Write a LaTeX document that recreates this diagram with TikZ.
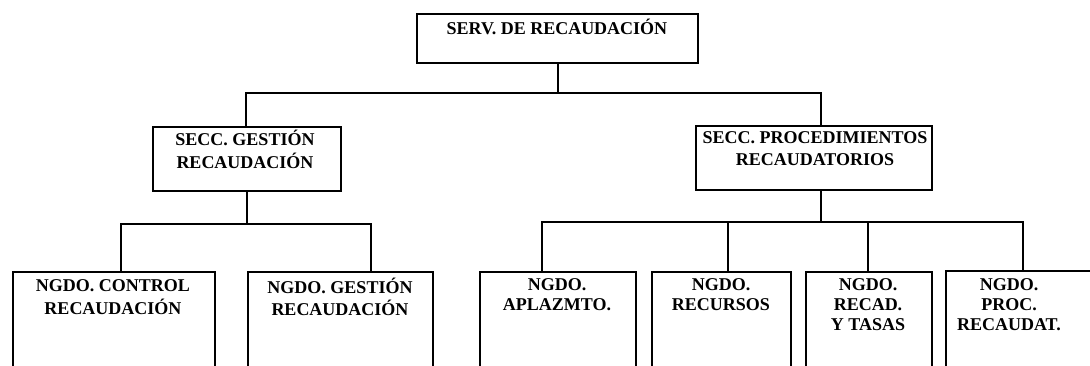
\documentclass[tikz,border=0pt]{standalone}
\usepackage{fontspec}
\setmainfont{Liberation Serif}
\begin{document}
\begin{tikzpicture}[x=1pt,y=-1pt,
  line width=1.5pt,
  box/.style={draw=black, line width=1.6pt, rectangle, inner sep=0pt, anchor=north west},
  lbl/.style={anchor=north, inner sep=0pt, align=center, font=\bfseries\fontsize{18}{20}\selectfont},
  lblb/.style={lbl, font=\bfseries\fontsize{18}{21.5}\selectfont},
  link/.style={draw=black, line width=1.6pt}]
\useasboundingbox (0,0) rectangle (1090,366);
\clip (0,0) rectangle (1090,366);
\fill[white] (0,0) rectangle (1090,366);
% boxes
\node[box, minimum width=281pt, minimum height=49pt] (top) at (416,13) {};
\node[box, minimum width=188pt, minimum height=64pt] (secL) at (152,126) {};
\node[box, minimum width=236pt, minimum height=64pt] (secR) at (695,125) {};
\node[box, minimum width=202pt, minimum height=120pt] (n1) at (12,271) {};
\node[box, minimum width=185pt, minimum height=120pt] (n2) at (247,271) {};
\node[box, minimum width=156pt, minimum height=120pt] (n3) at (479,271) {};
\node[box, minimum width=139pt, minimum height=120pt] (n4) at (651,271) {};
\node[box, minimum width=126pt, minimum height=120pt] (n5) at (805,271) {};
\node[box, minimum width=160pt, minimum height=120pt] (n6) at (945,270) {};
% labels
\node[lbl] (tTop) at (557,18) {\strut SERV. DE RECAUDACIÓN};
\node[lblb] (tSecL) at (245,129) {\strut SECC. GESTIÓN\\RECAUDACIÓN};
\node[lblb] (tSecR) at (815,128) {\strut SECC. PROCEDIMIENTOS\\RECAUDATORIOS};
\node[lbl] (t1) at (113,277) {\strut NGDO. CONTROL\\RECAUDACIÓN};
\node[lbl] (t2) at (340,277) {\strut NGDO. GESTIÓN\\RECAUDACIÓN};
\node[lbl] (t3) at (557,276) {\strut NGDO.\\APLAZMTO.};
\node[lbl] (t4) at (721,276) {\strut NGDO.\\RECURSOS};
\node[lbl] (t5) at (868,276) {\strut NGDO.\\RECAD.\\Y TASAS};
\node[lbl] (t6) at (1009,276) {\strut NGDO.\\PROC.\\RECAUDAT.};
% junction coordinates
\coordinate (jTop) at (558,93);
\coordinate (jA) at (246,93);
\coordinate (jB) at (821,93);
\coordinate (jL) at (247,224);
\coordinate (jL1) at (121,224);
\coordinate (jL2) at (371,224);
\coordinate (jR) at (821,222);
\coordinate (jR1) at (542,222);
\coordinate (jR2) at (728,222);
\coordinate (jR3) at (868,222);
\coordinate (jR4) at (1023,222);
% connectors
\draw[link] (top.south -| jTop) -- (jTop);
\draw[link] (jA |- secL.north) -- (jA) -- (jB) -- (jB |- secR.north);
\draw[link] (secL.south -| jL) -- (jL);
\draw[link] (jL1 |- n1.north) -- (jL1) -- (jL2) -- (jL2 |- n2.north);
\draw[link] (secR.south -| jR) -- (jR);
\draw[link] (jR1 |- n3.north) -- (jR1) -- (jR4) -- (jR4 |- n6.north);
\draw[link] (jR2) -- (jR2 |- n4.north);
\draw[link] (jR3) -- (jR3 |- n5.north);
\end{tikzpicture}
\end{document}
